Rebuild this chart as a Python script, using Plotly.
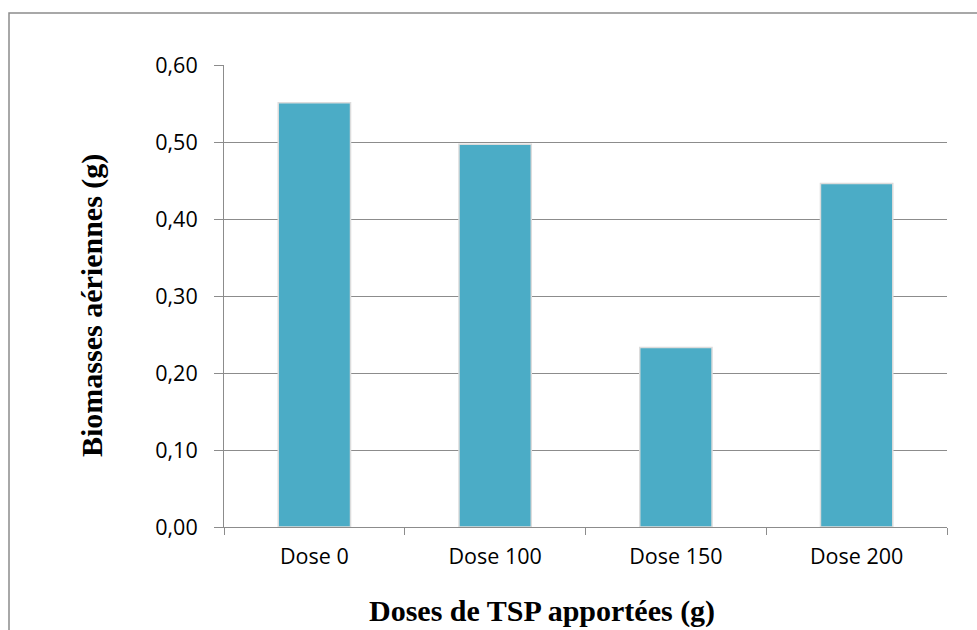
import plotly.graph_objects as go

categories = ["Dose 0", "Dose 100", "Dose 150", "Dose 200"]
biomasse = [0.551, 0.497, 0.233, 0.446]
y_ticks = [0.0, 0.1, 0.2, 0.3, 0.4, 0.5, 0.6]

W, H = 977, 630
L, R, T, B = 224, 30, 65, 103
pw, ph = W - L - R, H - T - B

def px(x):
    return (x - L) / pw

def py(y):
    return (H - B - y) / ph

fig = go.Figure(go.Bar(
    x=categories, y=biomasse,
    marker=dict(color="#4BACC6", line=dict(color="#dcdcdc", width=1.5)),
))

fig.update_layout(
    width=W, height=H,
    margin=dict(l=L, r=R, t=T, b=B),
    paper_bgcolor="white", plot_bgcolor="white",
    separators=", ",
    bargap=0.6,
    showlegend=False,
    font=dict(family="Open Sans", size=21, color="#000"),
    xaxis=dict(
        type="category", range=[-0.5, 3.5],
        showline=True, linecolor="#8c8c8c", linewidth=1,
        ticks="outside", tickson="boundaries", ticklen=7, tickcolor="#8c8c8c",
        ticklabelstandoff=10,
        showgrid=False, tickfont=dict(family="Open Sans", size=21.5),
    ),
    yaxis=dict(
        range=[0, 0.6], tickvals=y_ticks, tickformat=".2f",
        showline=True, linecolor="#8c8c8c", linewidth=1,
        ticks="outside", ticklen=9, tickcolor="#8c8c8c",
        ticklabelstandoff=12,
        showgrid=True, gridcolor="#8c8c8c", gridwidth=1,
        zeroline=False, tickfont=dict(family="Open Sans", size=21.5),
    ),
    shapes=[dict(type="rect", xref="paper", yref="paper",
                 x0=px(9), x1=px(990), y0=py(13), y1=py(700),
                 line=dict(color="#8c8c8c", width=1.5), layer="below")],
    annotations=[
        dict(text="<b>Doses de TSP apportées (g)</b>", xref="paper", yref="paper",
             x=px(542), y=py(611), xanchor="center", yanchor="middle", showarrow=False,
             font=dict(family="Liberation Serif", size=30, color="#000")),
        dict(text="<b>Biomasses aériennes (g)</b>", xref="paper", yref="paper",
             x=px(92), y=py(306), xanchor="center", yanchor="middle", showarrow=False,
             textangle=-90,
             font=dict(family="Liberation Serif", size=30, color="#000")),
    ],
)

fig.write_html("out.html", config={"displayModeBar": False},
               post_script="document.body.style.margin='0';document.body.style.overflow='hidden';")
